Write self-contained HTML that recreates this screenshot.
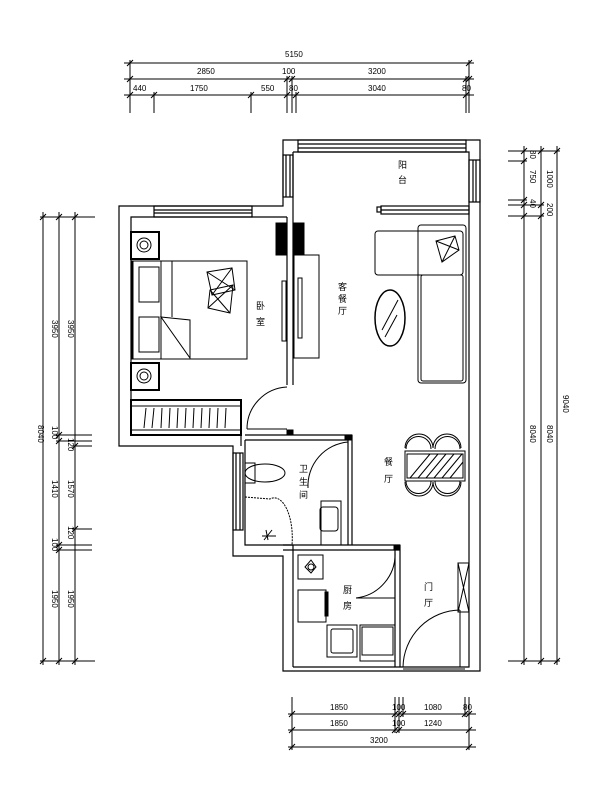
<!DOCTYPE html>
<html><head><meta charset="utf-8"><style>
html,body{margin:0;padding:0;background:#fff;}
svg{display:block;}
text{font-family:"Liberation Sans","Noto Sans CJK SC",sans-serif;fill:#000;}
</style></head><body>
<svg width="600" height="800" viewBox="0 0 600 800" xmlns="http://www.w3.org/2000/svg">
<g stroke="#000" stroke-width="1" fill="none">
<!-- TOP DIMENSIONS -->
<line x1="124" y1="63" x2="474" y2="63"/>
<line x1="124" y1="79" x2="474" y2="79"/>
<line x1="124" y1="95" x2="474" y2="95"/>
<line x1="130" y1="60" x2="130" y2="113"/>
<line x1="154" y1="92" x2="154" y2="113"/>
<line x1="251" y1="92" x2="251" y2="113"/>
<line x1="287" y1="76" x2="287" y2="113"/>
<line x1="292" y1="76" x2="292" y2="113"/>
<line x1="296" y1="92" x2="296" y2="113"/>
<line x1="466" y1="76" x2="466" y2="113"/>
<line x1="469" y1="60" x2="469" y2="113"/>
<!-- ticks top -->
<path d="M127 66 L133 60 M127 82 L133 76 M127 98 L133 92 M151 98 L157 92 M248 98 L254 92 M284 82 L290 76 M284 98 L290 92 M289 82 L295 76 M293 98 L299 92 M463 82 L469 76 M463 98 L469 92 M466 66 L472 60 M466 82 L472 76"/>

<!-- LEFT DIMENSIONS -->
<line x1="43" y1="212" x2="43" y2="665"/>
<line x1="59" y1="212" x2="59" y2="665"/>
<line x1="75" y1="212" x2="75" y2="665"/>
<line x1="40" y1="217" x2="95" y2="217"/>
<line x1="40" y1="661" x2="95" y2="661"/>
<line x1="56" y1="435" x2="92" y2="435"/>
<line x1="56" y1="441" x2="92" y2="441"/>
<line x1="72" y1="446" x2="92" y2="446"/>
<line x1="72" y1="529" x2="92" y2="529"/>
<line x1="56" y1="545" x2="92" y2="545"/>
<line x1="56" y1="550" x2="92" y2="550"/>
<path d="M40 220 L46 214 M56 220 L62 214 M72 220 L78 214 M40 664 L46 658 M56 664 L62 658 M72 664 L78 658 M56 438 L62 432 M56 444 L62 438 M72 449 L78 443 M72 532 L78 526 M56 548 L62 542 M56 553 L62 547"/>

<!-- RIGHT DIMENSIONS -->
<line x1="524" y1="146" x2="524" y2="665"/>
<line x1="541" y1="146" x2="541" y2="665"/>
<line x1="557" y1="146" x2="557" y2="665"/>
<line x1="508" y1="151" x2="560" y2="151"/>
<line x1="508" y1="161" x2="527" y2="161"/>
<line x1="508" y1="200" x2="527" y2="200"/>
<line x1="508" y1="205" x2="544" y2="205"/>
<line x1="508" y1="216" x2="544" y2="216"/>
<line x1="508" y1="661" x2="560" y2="661"/>
<path d="M521 154 L527 148 M538 154 L544 148 M554 154 L560 148 M521 164 L527 158 M521 203 L527 197 M521 208 L527 202 M538 208 L544 202 M538 219 L544 213 M521 219 L527 213 M521 664 L527 658 M538 664 L544 658 M554 664 L560 658"/>

<!-- BOTTOM DIMENSIONS -->
<line x1="288" y1="714" x2="476" y2="714"/>
<line x1="288" y1="730" x2="476" y2="730"/>
<line x1="288" y1="747" x2="476" y2="747"/>
<line x1="292" y1="697" x2="292" y2="750"/>
<line x1="395" y1="697" x2="395" y2="733"/>
<line x1="399" y1="697" x2="399" y2="733"/>
<line x1="403" y1="697" x2="403" y2="717"/>
<line x1="465" y1="697" x2="465" y2="717"/>
<line x1="469" y1="697" x2="469" y2="750"/>
<path d="M289 717 L295 711 M289 733 L295 727 M289 750 L295 744 M392 717 L398 711 M396 717 L402 711 M400 717 L406 711 M392 733 L398 727 M396 733 L402 727 M462 717 L468 711 M466 717 L472 711 M466 733 L472 727 M466 750 L472 744"/>
</g>

<!-- dimension text -->
<g font-size="8">
<text x="285" y="57">5150</text>
<text x="197" y="74">2850</text>
<text x="282" y="74">100</text>
<text x="368" y="74">3200</text>
<text x="133" y="91">440</text>
<text x="190" y="91">1750</text>
<text x="261" y="91">550</text>
<text x="289" y="91">80</text>
<text x="368" y="91">3040</text>
<text x="462" y="91">80</text>
<text x="330" y="710">1850</text>
<text x="392" y="710">100</text>
<text x="424" y="710">1080</text>
<text x="463" y="710">80</text>
<text x="330" y="726">1850</text>
<text x="392" y="726">100</text>
<text x="424" y="726">1240</text>
<text x="370" y="743">3200</text>
</g>
<g font-size="8">
<text transform="translate(52,320) rotate(90)">3950</text>
<text transform="translate(68,320) rotate(90)">3950</text>
<text transform="translate(38,425) rotate(90)">8040</text>
<text transform="translate(52,426) rotate(90)">100</text>
<text transform="translate(68,438) rotate(90)">120</text>
<text transform="translate(52,480) rotate(90)">1410</text>
<text transform="translate(68,480) rotate(90)">1570</text>
<text transform="translate(68,526) rotate(90)">120</text>
<text transform="translate(52,538) rotate(90)">100</text>
<text transform="translate(52,590) rotate(90)">1950</text>
<text transform="translate(68,590) rotate(90)">1950</text>
<text transform="translate(530,150) rotate(90)">80</text>
<text transform="translate(530,170) rotate(90)">750</text>
<text transform="translate(530,199) rotate(90)">40</text>
<text transform="translate(547,170) rotate(90)">1000</text>
<text transform="translate(547,203) rotate(90)">200</text>
<text transform="translate(530,425) rotate(90)">8040</text>
<text transform="translate(547,425) rotate(90)">8040</text>
<text transform="translate(563,395) rotate(90)">9040</text>
</g>

<!-- WALLS -->
<g stroke="#000" stroke-width="1.2" fill="none">
<!-- outer outline -->
<path d="M283 140 L480 140 L480 671 L283 671 L283 556 L233 556 L233 446 L119 446 L119 206 L283 206 Z"/>
<!-- inner living -->
<path d="M293 152 L469 152 L469 667 L402 667"/>
<line x1="293" y1="152" x2="293" y2="385"/>
<line x1="287" y1="217" x2="287" y2="385"/>
<!-- bedroom inner -->
<path d="M287 217 L131 217 L131 435 L241 435"/>
<line x1="241" y1="435" x2="241" y2="446"/>
<!-- bathroom -->
<path d="M245 440 L245 545 L293 545"/>
<line x1="245" y1="435" x2="352" y2="435"/>
<line x1="245" y1="440" x2="348" y2="440"/>
<line x1="348" y1="440" x2="348" y2="545"/>
<line x1="352" y1="435" x2="352" y2="545"/>
<line x1="287" y1="432" x2="293" y2="432"/>
<!-- kitchen -->
<line x1="293" y1="545" x2="293" y2="667"/>
<line x1="283" y1="550" x2="400" y2="550"/>
<line x1="283" y1="545" x2="400" y2="545"/>
<line x1="395" y1="550" x2="395" y2="667"/>
<line x1="400" y1="545" x2="400" y2="667"/>
<line x1="293" y1="667" x2="402" y2="667"/>
<!-- windows -->
<rect x="298" y="140" width="168" height="12"/>
<line x1="298" y1="144" x2="466" y2="144"/><line x1="298" y1="148" x2="466" y2="148"/>
<rect x="283" y="155" width="10" height="42"/>
<line x1="286" y1="155" x2="286" y2="197"/><line x1="290" y1="155" x2="290" y2="197"/>
<rect x="469" y="160" width="11" height="42"/>
<line x1="473" y1="160" x2="473" y2="202"/><line x1="476" y1="160" x2="476" y2="202"/>
<rect x="154" y="206" width="98" height="11"/>
<line x1="154" y1="210" x2="252" y2="210"/><line x1="154" y1="213" x2="252" y2="213"/>
<rect x="381" y="206" width="88" height="8"/>
<line x1="381" y1="210" x2="469" y2="210"/>
<rect x="377" y="207" width="4" height="5"/>
<rect x="233" y="453" width="10" height="77"/>
<line x1="236" y1="453" x2="236" y2="530"/><line x1="240" y1="453" x2="240" y2="530"/>
</g>

<g stroke="#000" stroke-width="1" fill="none">
<!-- bedroom furniture -->
<rect x="131" y="232" width="28" height="27" stroke-width="2"/>
<circle cx="144" cy="245" r="7"/><circle cx="144" cy="245" r="4"/>
<rect x="131" y="363" width="28" height="27" stroke-width="2"/>
<circle cx="144" cy="376" r="7"/><circle cx="144" cy="376" r="4"/>
<rect x="132" y="261" width="115" height="98"/>
<rect x="133" y="261" width="28" height="98"/>
<rect x="139" y="267" width="20" height="35"/>
<rect x="139" y="317" width="20" height="35"/>
<line x1="172" y1="261" x2="172" y2="317"/>
<path d="M161 317 L190 320 L190 358 Z"/>
<path d="M207 272 L232 268 L235 290 L212 295 Z M210 290 L233 285 L230 313 L208 308 Z"/>
<path d="M207 272 L235 290 M232 268 L212 295 M210 290 L230 313 M233 285 L208 308"/>
<!-- wardrobe -->
<rect x="131" y="400" width="110" height="35" stroke-width="2"/>
<line x1="131" y1="406" x2="241" y2="406"/>
<line x1="131" y1="430" x2="241" y2="430"/>
<path d="M146 408 L144 428 M154 408 L152 428 M162 408 L161 428 M170 408 L169 428 M178 408 L177 428 M186 408 L185 428 M194 408 L193 428 M202 408 L201 428 M210 408 L209 428 M218 408 L217 428 M226 408 L225 428"/>
<!-- bedroom door -->
<path d="M287 387 A42 42 0 0 0 247 429"/>
<line x1="247" y1="429" x2="287" y2="429"/>
<!-- TV / wardrobe on partition -->
<rect x="276" y="223" width="10" height="32" fill="#000"/>
<rect x="294" y="223" width="10" height="32" fill="#000"/>
<rect x="294" y="255" width="25" height="103"/>
<rect x="282" y="281" width="4" height="60"/>
<rect x="298" y="278" width="4" height="60"/>
<!-- sofa -->
<rect x="375" y="231" width="88" height="44" rx="3"/>
<rect x="418" y="225" width="48" height="158" rx="3"/>
<rect x="421" y="275" width="42" height="106" rx="2"/>
<path d="M436 241 L455 236 L459 250 L442 262 Z M436 241 L459 250 M455 236 L442 262"/>
<ellipse cx="390" cy="318" rx="15" ry="28" stroke-width="1.5"/>
<path d="M382 330 L398 300 M385 337 L397 315"/>
<!-- dining -->
<path d="M405 448 A14 14 0 0 1 433 448 M433 448 A14 14 0 0 1 461 448"/>
<path d="M406 449 A12 12 0 0 1 431 449 M435 449 A12 12 0 0 1 460 449"/>
<path d="M405 482 A14 14 0 0 0 433 482 M433 482 A14 14 0 0 0 461 482"/>
<path d="M406 481 A12 12 0 0 0 431 481 M435 481 A12 12 0 0 0 460 481"/>
<rect x="405" y="451" width="60" height="30"/>
<rect x="407" y="454" width="56" height="24"/>
<path d="M410 478 L430 454 M418 478 L438 454 M426 478 L446 454 M434 478 L454 454 M442 478 L462 454 M450 478 L463 462"/>
<!-- bathroom -->
<ellipse cx="265" cy="473" rx="20" ry="9"/>
<rect x="245" y="463" width="10" height="20"/>
<path d="M245 497 L270 499 A18 40 0 0 1 292 545" stroke-dasharray="2,1"/>
<path d="M348 442 A44 44 0 0 0 308 488"/>
<line x1="348" y1="488" x2="308" y2="488" stroke-width="0"/>
<rect x="321" y="501" width="20" height="44"/>
<rect x="320" y="507" width="18" height="24" rx="3"/>
<path d="M266 530 L268 540 M262 536 L276 536 M264 540 L272 530"/>
<!-- kitchen -->
<rect x="298" y="555" width="25" height="24"/>
<path d="M311 560 L316 567 L311 573 L305 567 Z"/><circle cx="311" cy="567" r="3"/>
<rect x="298" y="590" width="28" height="32"/>
<rect x="325" y="592" width="3" height="24" fill="#000"/>
<rect x="327" y="625" width="30" height="32"/>
<rect x="331" y="629" width="22" height="24" rx="2"/>
<rect x="360" y="625" width="35" height="36"/>
<rect x="362" y="627" width="31" height="28"/>
<path d="M395 552 A44 44 0 0 1 356 598"/>
<line x1="356" y1="598" x2="395" y2="598"/>
<!-- entrance -->
<path d="M403 667 A58 58 0 0 1 460 610"/>
<line x1="460" y1="610" x2="460" y2="667"/>
<line x1="403" y1="669" x2="465" y2="669"/>
<rect x="458" y="563" width="11" height="49"/>
<path d="M458 563 L469 612 M469 563 L458 612"/>
<rect x="345" y="435" width="7" height="5" fill="#000"/>
<rect x="394" y="545" width="6" height="5" fill="#000"/>
<rect x="287" y="430" width="6" height="5" fill="#000"/>
</g>

<!-- room labels -->
<g font-size="9">
<text x="398" y="168">阳</text><text x="398" y="183">台</text>
<text x="256" y="309">卧</text><text x="256" y="325">室</text>
<text x="338" y="290">客</text><text x="338" y="302">餐</text><text x="338" y="314">厅</text>
<text x="384" y="465">餐</text><text x="384" y="482">厅</text>
<text x="299" y="472">卫</text><text x="299" y="485">生</text><text x="299" y="498">间</text>
<text x="343" y="593">厨</text><text x="343" y="609">房</text>
<text x="424" y="590">门</text><text x="424" y="606">厅</text>
</g>
</svg>
</body></html>
